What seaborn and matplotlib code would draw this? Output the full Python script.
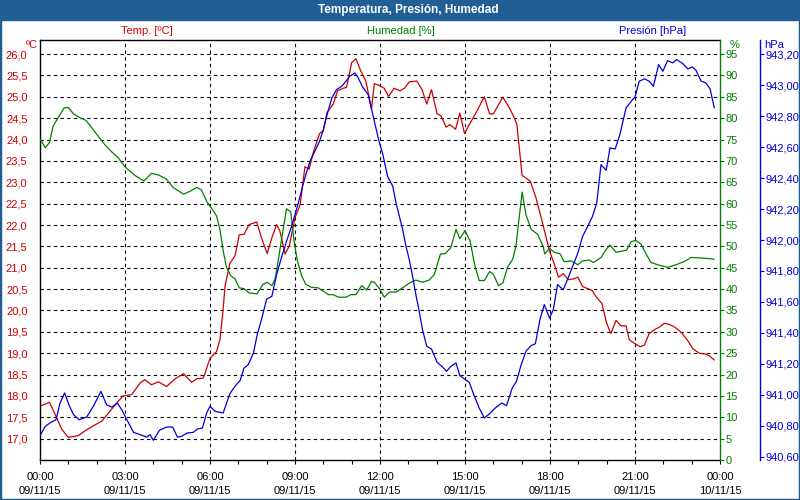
import numpy as np
import pandas as pd
import matplotlib
matplotlib.use("Agg")
import matplotlib.pyplot as plt
import seaborn as sns
from matplotlib.ticker import FixedLocator, FuncFormatter, MultipleLocator
from matplotlib.patches import Rectangle

# minutes since 09/11/15 00:00
temp_min = [0, 20, 32, 46, 60, 81, 95, 113, 131, 148, 166, 176, 194, 212, 222, 236, 251, 268, 286, 304,
            321, 332, 346, 360, 374, 381, 387, 392, 402, 413, 422, 432, 443, 459, 469, 481, 491, 501, 508, 519,
            528, 540, 551, 561, 570, 579, 592, 600, 608, 621, 630, 642, 649, 660, 669, 679, 690, 702,
            708, 719, 729, 738, 750, 762, 772, 782, 798, 809, 819, 829, 841, 849, 860, 868, 880, 889, 899, 909,
            922, 941, 952, 960, 980, 993, 1004, 1010, 1015, 1021, 1038, 1050, 1065, 1079, 1089, 1098, 1108, 1119,
            1130, 1139, 1149, 1160, 1169, 1177, 1190, 1200, 1209, 1220, 1230, 1241, 1248, 1259, 1271, 1280, 1290,
            1303, 1313, 1322, 1331, 1343, 1357, 1372, 1382, 1396, 1410, 1417, 1428]
temp_val = [17.76, 17.85, 17.57, 17.22, 17.03, 17.07, 17.18, 17.30, 17.41, 17.64, 17.88, 18.00, 18.03, 18.30,
            18.38, 18.26, 18.33, 18.22, 18.40, 18.52, 18.32, 18.40, 18.42, 18.88, 19.04, 19.31, 19.93, 20.58,
            21.10, 21.28, 21.77, 21.78, 22.01, 22.07, 21.70, 21.33, 21.70, 22.01, 21.86, 21.32, 21.51, 22.17,
            22.48, 23.36, 23.31, 23.71, 24.14, 24.21, 24.64, 24.83, 25.14, 25.20, 25.22, 25.80, 25.89, 25.61,
            25.37, 24.72,
            25.31, 25.26, 25.20, 25.01, 25.20, 25.14, 25.20, 25.35, 25.37, 25.17, 24.83, 25.17, 24.60, 24.56,
            24.29, 24.35, 24.24, 24.62, 24.14, 24.35, 24.60, 25.00, 24.60, 24.60, 24.99, 24.76, 24.52, 24.35,
            23.79, 23.16, 23.03, 22.65, 22.01, 21.39, 21.09, 20.78, 20.86, 20.72, 20.74, 20.78, 20.56, 20.51,
            20.47, 20.33, 20.16, 19.70, 19.46, 19.77, 19.64, 19.64, 19.31, 19.23, 19.15, 19.19, 19.46, 19.56,
            19.62, 19.70, 19.68, 19.62, 19.50, 19.29, 19.11, 19.00, 18.98, 18.94, 18.84]

hum_min = [0, 11, 20, 28, 39, 51, 60, 71, 83, 97, 106, 116, 138, 152, 166, 180, 201, 220, 236, 251, 267, 282,
           304, 318, 332, 342, 353, 364, 374, 381, 388, 395, 404, 413, 422, 432, 443, 460, 472, 481, 491, 498,
           505, 512, 522, 531, 538, 545, 554, 563, 575, 589, 600, 611, 621, 632, 648, 658, 669, 681, 692, 702,
           708, 719, 729, 740, 754, 768, 782, 796, 810, 824, 835, 848, 858, 870, 881, 889, 900, 911, 920, 930,
           941, 952, 960, 971, 980, 990, 1001, 1008, 1013, 1021, 1029, 1040, 1054, 1065, 1069, 1079, 1089, 1101,
           1110, 1125, 1139, 1149, 1163, 1172, 1188, 1199, 1207, 1220, 1233, 1242, 1252, 1262, 1273, 1283, 1294,
           1308, 1329, 1347, 1365, 1379, 1396, 1410, 1428]
hum_val = [75.2, 73.1, 74.3, 78.2, 80.2, 82.4, 82.5, 81.0, 80.2, 79.5, 78.3, 76.8, 73.7, 72.1, 70.7, 68.6,
           66.6, 65.3, 67.1, 66.7, 65.8, 63.8, 62.2, 62.9, 63.8, 63.2, 60.5, 58.8, 57.1, 54.0, 48.9, 45.1, 43.1,
           42.4, 40.3, 40.1, 39.1, 38.9, 41.1, 41.6, 40.8, 42.4, 47.0, 52.0, 58.8, 58.1, 51.2, 46.6, 43.1, 41.1,
           40.4, 40.3, 39.5, 38.7, 38.7, 38.1, 38.1, 38.7, 38.7, 40.8, 39.8, 41.8,
           41.6, 40.1, 38.1, 39.3, 39.3, 40.3, 41.4, 42.1, 41.6, 42.1, 43.4, 48.2, 48.3, 49.7, 54.0, 51.8, 53.7,
           51.2, 45.9, 42.0, 42.0, 44.1, 43.5, 40.8, 41.4, 45.1, 47.0, 50.1, 55.1, 62.7, 57.4, 54.0, 52.8, 50.1,
           48.2, 49.6, 48.6, 48.3, 46.4, 46.6, 45.7, 46.6, 46.8, 46.2, 47.4, 49.3, 50.3, 48.6, 48.9, 49.1, 51.1,
           51.4, 50.5, 48.3, 46.2, 45.7, 45.1, 45.7, 46.5, 47.4, 47.3, 47.2, 47.0]

pres_min = [0, 11, 21, 34, 42, 52, 62, 71, 83, 99, 113, 129, 141, 152, 164, 173, 184, 198, 212, 226, 233, 240,
            253, 268, 281, 291, 300, 311, 325, 333, 344, 353, 360, 371, 388, 402, 413, 424, 432, 441, 452, 460,
            469, 480, 491, 501, 510, 522, 531, 540, 547, 556, 565, 573, 582, 592, 600, 608, 618, 628, 639, 648,
            656, 667, 674, 683, 695,
            708, 717, 726, 736, 747, 754, 761, 768, 775, 782, 789, 796, 803, 810, 819, 829, 841, 851, 861, 870,
            881, 889, 899, 909, 920, 930, 941, 952, 964, 978, 988, 1000, 1009, 1019, 1029, 1040, 1049, 1059,
            1068, 1079, 1087, 1096, 1108, 1117, 1128, 1139, 1149, 1160, 1170, 1179, 1188, 1199, 1207, 1218,
            1228, 1241, 1252, 1260, 1269, 1280, 1290, 1299, 1310, 1319, 1329, 1340, 1348, 1361, 1372, 1381,
            1389, 1400, 1410, 1419, 1428]
pres_val = [940.736, 940.796, 940.818, 940.839, 940.943, 941.012, 940.930, 940.872, 940.839, 940.857, 940.926,
            941.022, 940.936, 940.921, 940.947, 940.904, 940.839, 940.758, 940.743, 940.727, 940.743, 940.706,
            940.771, 940.792, 940.792, 940.727, 940.732, 940.753, 940.758, 940.779, 940.786, 940.883, 940.926,
            940.893, 940.883, 941.007, 941.055, 941.094, 941.173, 941.195, 941.270, 941.389, 941.486, 941.619,
            941.636, 941.776, 941.873, 941.992, 942.071, 942.164, 942.239, 942.347, 942.444, 942.519, 942.573,
            942.638, 942.713, 942.810, 942.918, 942.972, 942.993, 943.026, 943.058, 943.079, 943.047, 942.989,
            942.939,
            942.767, 942.649, 942.552, 942.412, 942.347, 942.239, 942.153, 942.067, 941.959, 941.873, 941.766,
            941.647, 941.540, 941.421, 941.313, 941.296, 941.210, 941.184, 941.152, 941.184, 941.206, 941.124,
            941.102, 941.081, 940.990, 940.915, 940.850, 940.878, 940.915, 940.947, 940.930, 941.044, 941.087,
            941.195, 941.281, 941.318, 941.330, 941.490, 941.583, 941.496, 941.550, 941.712, 941.679, 941.744,
            941.830, 941.916, 942.024, 942.089, 942.153, 942.239, 942.487, 942.450, 942.595, 942.588, 942.681,
            942.853, 942.896, 942.924, 943.026, 943.041, 943.026, 942.993, 943.133, 943.090, 943.159, 943.144,
            943.166, 943.140, 943.105, 943.118, 943.097, 943.026, 943.015, 942.976, 942.853]

x_ticks = [0, 180, 360, 540, 720, 900, 1080, 1260, 1440]
x_labels = ["00:00\n09/11/15", "03:00\n09/11/15", "06:00\n09/11/15", "09:00\n09/11/15", "12:00\n09/11/15",
            "15:00\n09/11/15", "18:00\n09/11/15", "21:00\n09/11/15", "00:00\n10/11/15"]
temp_ticks = np.arange(17.0, 26.01, 0.5)
hum_ticks = np.arange(0, 96, 5)
pres_ticks = np.arange(940.6, 943.21, 0.2)

RED = "#cc0000"
GREEN = "#008000"
BLUE = "#0000dd"
BAR = "#1f5f96"

sns.set_theme(style="white")
plt.rcParams['font.family'] = ['Liberation Sans', 'DejaVu Sans']
fs = 8

df_t = pd.DataFrame({"min": temp_min, "val": temp_val})
df_h = pd.DataFrame({"min": hum_min, "val": hum_val})
df_p = pd.DataFrame({"min": pres_min, "val": pres_val})

fig = plt.figure(figsize=(8, 5), dpi=100)
ax = fig.add_axes([0.05, 0.08, 0.85, 0.84])
ax_h = ax.twinx()
ax_p = ax.twinx()

# grid behind everything
for v in temp_ticks:
    ax.axhline(v, color="black", lw=0.8, ls=(0, (3, 3)), zorder=0)
for v in x_ticks[1:-1]:
    ax.axvline(v, color="black", lw=0.8, ls=(0, (3, 3)), zorder=0)

sns.lineplot(data=df_t, x="min", y="val", ax=ax, color=RED, lw=0.9)
sns.lineplot(data=df_h, x="min", y="val", ax=ax_h, color=GREEN, lw=0.9)
sns.lineplot(data=df_p, x="min", y="val", ax=ax_p, color=BLUE, lw=0.9)

ax.set_xlim(0, 1440)
ax.set_ylim(16.5, 26.33)
ax_h.set_ylim(0, 98.3)
ax_p.set_ylim(940.579, 943.292)

for a in (ax, ax_h, ax_p):
    a.set_xlabel("")
    a.set_ylabel("")

ax.set_xticks(x_ticks)
ax.set_xticklabels(x_labels, fontsize=fs, color="black", linespacing=1.5)
ax.xaxis.set_minor_locator(MultipleLocator(60))
ax.tick_params(axis="x", which="both", direction="out", length=3, width=0.8, color="black",
               bottom=True, pad=6)

ax.yaxis.set_major_locator(FixedLocator(temp_ticks))
ax.yaxis.set_major_formatter(FuncFormatter(lambda v, p: f"{v:.1f}".replace(".", ",")))
ax.tick_params(axis="y", left=False, labelsize=fs, labelcolor=RED, pad=3)

ax_h.yaxis.set_major_locator(FixedLocator(hum_ticks))
ax_h.yaxis.set_major_formatter(FuncFormatter(lambda v, p: f"{v:.0f}"))
ax_h.tick_params(axis="y", right=True, direction="out", length=3, width=0.8, color=GREEN,
                 labelsize=fs, labelcolor=GREEN, pad=1)

ax_p.spines["right"].set_position(("axes", 720 / 680))
ax_p.yaxis.set_major_locator(FixedLocator(pres_ticks))
ax_p.yaxis.set_major_formatter(FuncFormatter(lambda v, p: f"{v:.2f}".replace(".", ",")))
ax_p.tick_params(axis="y", right=True, direction="out", length=3, width=0.8, color=BLUE,
                 labelsize=fs, labelcolor=BLUE, pad=1)

for s in ("left", "bottom", "top"):
    ax.spines[s].set_color("black")
    ax.spines[s].set_linewidth(1.0)
ax.spines["right"].set_visible(False)
for s in ("left", "bottom", "top"):
    ax_h.spines[s].set_visible(False)
    ax_p.spines[s].set_visible(False)
ax_h.spines["right"].set_color(GREEN)
ax_h.spines["right"].set_linewidth(1.0)
ax_p.spines["right"].set_color(BLUE)
ax_p.spines["right"].set_linewidth(1.0)

# title bar and frame
fig.patches.append(Rectangle((0, 0.96), 1, 0.04, transform=fig.transFigure, color=BAR, zorder=-1))
fig.patches.append(Rectangle((0, 0), 1, 1, transform=fig.transFigure, fill=False, ec=BAR, lw=2.5))
fig.text(0.51, 0.979, "Temperatura, Presión, Humedad", color="white", fontsize=8.5, fontweight="bold",
         ha="center", va="center")
fig.text(0.184, 0.938, "Temp. [ºC]", color=RED, fontsize=fs, ha="center", va="center")
fig.text(0.501, 0.938, "Humedad [%]", color=GREEN, fontsize=fs, ha="center", va="center")
fig.text(0.816, 0.938, "Presión [hPa]", color=BLUE, fontsize=fs, ha="center", va="center")
fig.text(0.047, 0.91, "ºC", color=RED, fontsize=fs, ha="right", va="center")
fig.text(0.912, 0.91, "%", color=GREEN, fontsize=fs, ha="left", va="center")
fig.text(0.955, 0.91, "hPa", color=BLUE, fontsize=fs, ha="left", va="center")

fig.savefig("out.png", dpi=100)
